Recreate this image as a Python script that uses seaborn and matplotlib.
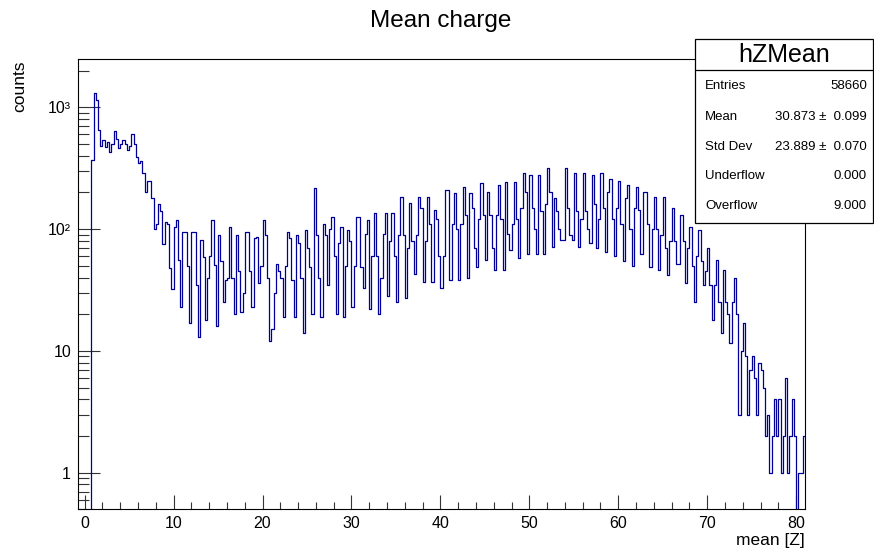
import numpy as np
import pandas as pd
import matplotlib
matplotlib.use("Agg")
import matplotlib.pyplot as plt
import seaborn as sns
from matplotlib.patches import Rectangle
from matplotlib.lines import Line2D
from matplotlib.ticker import FixedLocator, FixedFormatter, LogLocator, NullFormatter, MultipleLocator

# ---------------- data ----------------
bin_width = 0.25
first_edge = 0.5
counts = [
    0, 370,                   # 0.50, 0.75
    1300, 1150, 650, 480,     # 1
    540, 470, 520, 430,       # 2
    500, 640, 550, 460,       # 3
    500, 540, 500, 450,       # 4
    480, 600, 500, 390,       # 5
    350, 360, 290, 200,       # 6
    250, 250, 180, 100,       # 7
    110, 160, 140, 75,        # 8
    115, 110, 48, 32,         # 9
    104, 119, 56, 23,         # 10
    95, 95, 50, 17,           # 11
    95, 95, 35, 13,           # 12
    81, 59, 18, 40,           # 13
    60, 119, 51, 16,          # 14
    89, 55, 25, 38,           # 15
    40, 104, 40, 20,          # 16
    89, 45, 21, 30,           # 17
    95, 95, 45, 23,           # 18
    85, 86, 36, 50,           # 19
    119, 90, 40, 12,          # 20
    15, 30, 52, 45,           # 21
    40, 19, 50, 95,           # 22
    85, 38, 19, 90,           # 23
    77, 40, 14, 98,           # 24
    70, 49, 20, 218,          # 25
    90, 40, 19, 111,          # 26
    90, 35, 100, 125,         # 27
    60, 20, 77, 104,          # 28
    19, 50, 98, 80,           # 29
    23, 50, 126, 126,         # 30
    49, 33, 92, 119,          # 31
    22, 60, 135, 60,          # 32
    20, 40, 92, 135,          # 33
    28, 80, 135, 60,          # 34
    25, 90, 183, 90,          # 35
    27, 70, 164, 80,          # 36
    43, 90, 183, 150,         # 37
    37, 80, 183, 110,         # 38
    37, 144, 120, 60,         # 39
    33, 60, 209, 209,         # 40
    38, 110, 197, 100,        # 41
    38, 110, 222, 130,        # 42
    40, 197, 150, 70,         # 43
    49, 120, 238, 130,        # 44
    56, 201, 130, 70,         # 45
    46, 130, 230, 120,        # 46
    46, 245, 92, 67,          # 47
    110, 245, 120, 58,        # 48
    150, 290, 200, 63,        # 49
    280, 150, 100, 63,        # 50
    280, 140, 63, 160,        # 51
    318, 200, 71, 180,        # 52
    140, 100, 81, 81,         # 53
    318, 150, 90, 81,         # 54
    290, 140, 71, 120,        # 55
    290, 140, 100, 77,        # 56
    280, 160, 70, 120,        # 57
    290, 150, 65, 200,        # 58
    260, 120, 60, 150,        # 59
    250, 110, 55, 180,        # 60
    230, 100, 50, 150,        # 61
    220, 144, 63, 200,        # 62
    200, 110, 49, 100,        # 63
    183, 100, 46, 90,         # 64
    183, 70, 42, 80,          # 65
    149, 80, 52, 52,          # 66
    131, 80, 36, 70,          # 67
    104, 50, 25, 60,          # 68
    98, 55, 35, 45,           # 69
    70, 35, 18, 35,           # 70
    56, 25, 14, 46,           # 71
    25, 20, 11.5, 25,         # 72
    40, 20, 3, 10,            # 73
    17, 9, 3, 7,              # 74
    9, 6, 3, 8,               # 75
    7, 5, 2, 3,               # 76
    1, 2, 4, 2,               # 77
    4, 1, 2, 6,               # 78
    1, 2, 4, 2,               # 79
    0, 1, 1, 2,               # 80
]
n_bins = len(counts)
last_edge = first_edge + bin_width * n_bins
centers = first_edge + bin_width * (np.arange(n_bins) + 0.5)
df = pd.DataFrame({"mean": centers, "counts": counts})

x_ticks = [0, 10, 20, 30, 40, 50, 60, 70, 80]
y_ticks = [1, 10, 100, 1000]
y_tick_labels = ["1", "10", "10\u00b2", "10\u00b3"]

title = "Mean charge"
x_label = "mean [Z]"
y_label = "counts"
hist_name = "hZMean"
stat_names = ["Entries", "Mean", "Std Dev", "Underflow", "Overflow"]
stat_values = ["58660", "30.873 \u00b1  0.099", "23.889 \u00b1  0.070", "0.000", "9.000"]

# ---------------- style ----------------
sns.set_style("white")
plt.rcParams["font.family"] = ["Liberation Sans", "DejaVu Sans"]
plt.rcParams["axes.linewidth"] = 0.8
plt.rcParams["text.color"] = "black"
plt.rcParams["xtick.color"] = "black"
plt.rcParams["ytick.color"] = "black"
plt.rcParams["axes.labelcolor"] = "black"

W, H = 874, 550
fig = plt.figure(figsize=(W / 100, H / 100), dpi=100)
ax = fig.add_axes([78 / W, 1 - 509.3 / H, (805 - 78) / W, (509.3 - 59.3) / H])

line_color = "#000099"
sns.histplot(data=df, x="mean", weights="counts", binwidth=bin_width,
             binrange=(first_edge, last_edge), element="step",
             fill=False, color=line_color, linewidth=0.9, ax=ax)
ax.set_yscale("log")
ax.set_xlim(-0.75, 81.0)
ax.set_ylim(0.5, 2480)

for s in ax.spines.values():
    s.set_color("black")
    s.set_linewidth(0.8)

ax.xaxis.set_major_locator(FixedLocator(x_ticks))
ax.xaxis.set_minor_locator(MultipleLocator(2))
ax.yaxis.set_major_locator(FixedLocator(y_ticks))
ax.yaxis.set_major_formatter(FixedFormatter(y_tick_labels))
ax.yaxis.set_minor_locator(LogLocator(base=10, subs=np.arange(2, 10), numticks=20))
ax.yaxis.set_minor_formatter(NullFormatter())

ax.tick_params(axis="x", which="major", direction="in", length=10, width=0.8,
               labelsize=11.5, pad=5, color="#333333", labelcolor="black",
               bottom=True, top=False)
ax.tick_params(axis="x", which="minor", direction="in", length=5, width=0.8,
               color="#333333", bottom=True, top=False)
ax.tick_params(axis="y", which="major", direction="in", length=16, width=0.8,
               labelsize=11.5, pad=5, color="#333333", labelcolor="black",
               left=True, right=False)
ax.tick_params(axis="y", which="minor", direction="in", length=8, width=0.8,
               color="#333333", left=True, right=False)
ax.set_xlabel("")
ax.set_ylabel("")

fig.text(441 / W, 1 - 21 / H, title, ha="center", va="center", fontsize=17.5, color="black")
fig.text(805 / W, 1 - 540 / H, x_label, ha="right", va="center", fontsize=12.5, color="black")
fig.text(20 / W, 1 - 60 / H, y_label, ha="center", va="top", rotation=90, fontsize=12.5,
         color="black")

# stats box
bx0, by0, bx1, by1 = 695, 39.3, 873, 222.7
fig.add_artist(Rectangle((bx0 / W, 1 - by1 / H), (bx1 - bx0) / W, (by1 - by0) / H,
                         transform=fig.transFigure, facecolor="white",
                         edgecolor="black", linewidth=0.9, zorder=5))
fig.add_artist(Line2D([bx0 / W, bx1 / W], [1 - 70 / H, 1 - 70 / H],
                      transform=fig.transFigure, color="black", linewidth=0.9, zorder=6))
fig.text((bx0 + bx1) / 2 / W, 1 - 55.5 / H, hist_name, ha="center", va="center",
         fontsize=18, color="black", zorder=7)
row_y = [85.7, 116.7, 146.7, 175.7, 205.7]
for name, val, yy in zip(stat_names, stat_values, row_y):
    fig.text(705 / W, 1 - yy / H, name, ha="left", va="center", fontsize=9.5,
             color="black", zorder=7)
    fig.text(867 / W, 1 - yy / H, val, ha="right", va="center", fontsize=9.5,
             color="black", zorder=7)

fig.savefig("out.png", dpi=100)
